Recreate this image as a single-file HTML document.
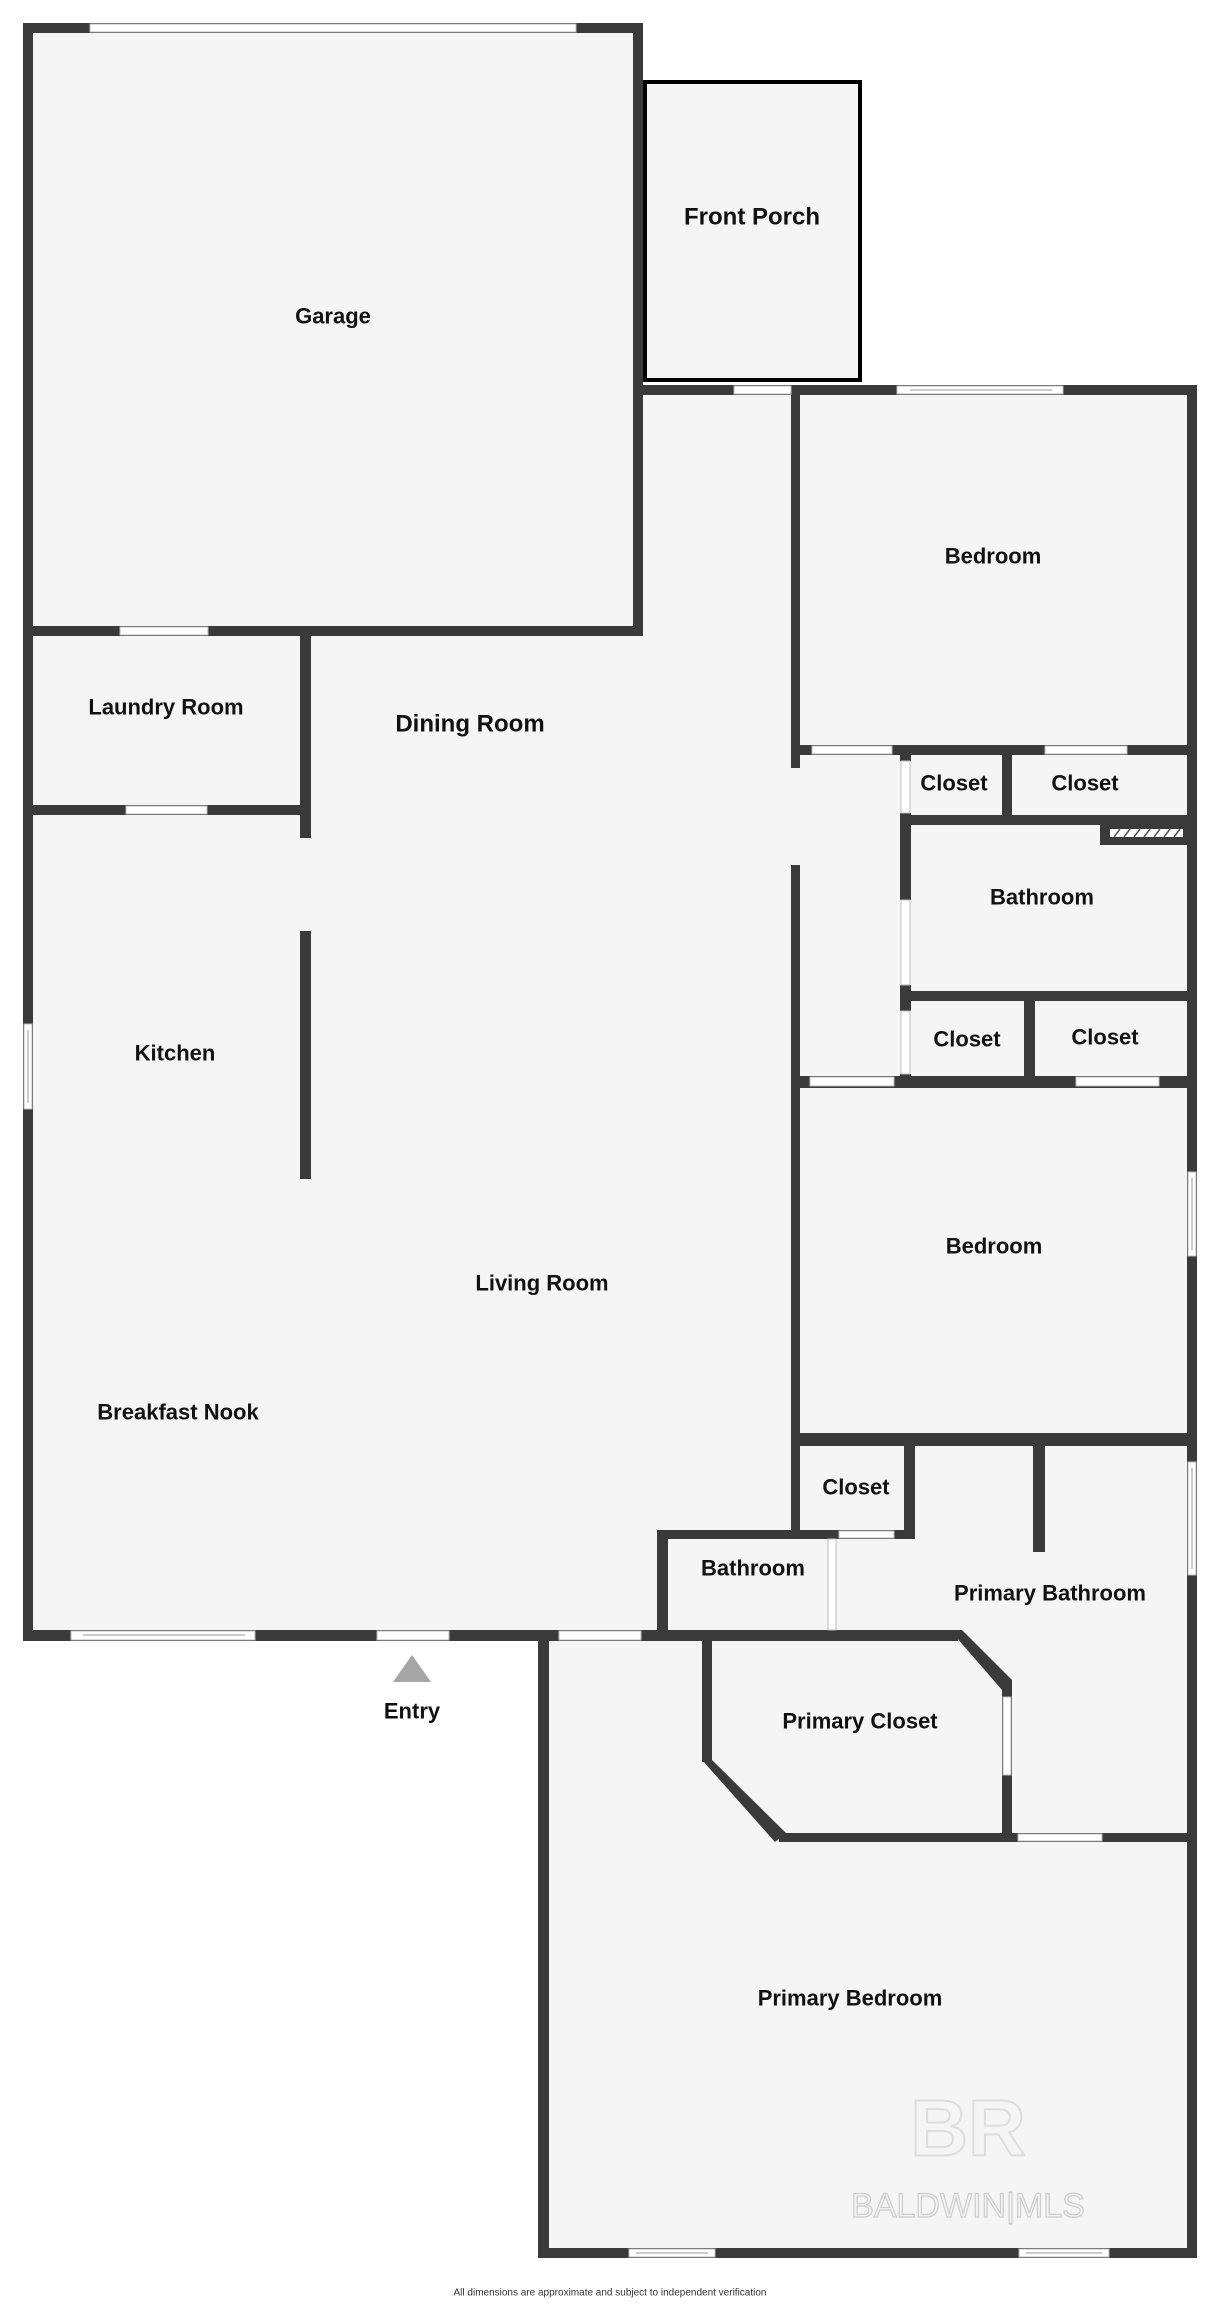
<!DOCTYPE html>
<html><head><meta charset="utf-8"><style>
html,body{margin:0;padding:0;background:#fff}
svg{display:block}
text{font-family:"Liberation Sans",sans-serif;font-weight:bold;fill:#111;text-anchor:middle;dominant-baseline:central}
</style></head><body>
<svg width="1218" height="2304" viewBox="0 0 1218 2304" xmlns="http://www.w3.org/2000/svg">
<!-- floor -->
<polygon points="23,23 643,23 643,385 1197,385 1197,2258 538,2258 538,1641 23,1641" fill="#f5f5f5"/>
<rect x="645" y="82" width="215" height="298" fill="#f5f5f5" stroke="#000" stroke-width="4"/>
<g fill="#3a3a3a">
<!-- garage -->
<rect x="23" y="23" width="620" height="10"/>
<rect x="23" y="23" width="10" height="1618"/>
<rect x="633" y="23" width="10" height="613"/>
<rect x="23" y="626" width="620" height="10"/>
<!-- top of bedroom wing -->
<rect x="643" y="385" width="554" height="10"/>
<rect x="1187" y="385" width="10" height="1873"/>
<rect x="791" y="385" width="9" height="383"/>
<rect x="791" y="745" width="406" height="10"/>
<!-- laundry -->
<rect x="300" y="636" width="11" height="202"/>
<rect x="33" y="805" width="278" height="10"/>
<rect x="300" y="931" width="11" height="248"/>
<!-- hall / bedroom2 column -->
<rect x="791" y="865" width="9" height="674"/>
<rect x="900" y="745" width="11" height="16"/>
<rect x="900" y="813" width="11" height="87"/>
<rect x="900" y="985" width="11" height="26"/>
<rect x="900" y="1074" width="11" height="12"/>
<rect x="1002" y="745" width="10" height="80"/>
<rect x="900" y="815" width="297" height="10"/>
<rect x="1100" y="825" width="87" height="20"/>
<rect x="900" y="991" width="297" height="10"/>
<rect x="1024" y="1001" width="11" height="85"/>
<rect x="791" y="1076" width="406" height="12"/>
<rect x="791" y="1433" width="406" height="13"/>
<!-- closet / baths -->
<rect x="904" y="1446" width="11" height="93"/>
<rect x="657" y="1530" width="258" height="9"/>
<rect x="1033" y="1446" width="12" height="106"/>
<rect x="657" y="1530" width="11" height="111"/>
<!-- main bottom -->
<rect x="23" y="1630" width="935" height="11"/>
<rect x="538" y="1630" width="11" height="628"/>
<rect x="538" y="2248" width="659" height="10"/>
<!-- primary closet -->
<rect x="702" y="1641" width="10" height="121"/>
<polygon points="702,1760 712,1760 786,1833 775,1842"/>
<rect x="779" y="1833" width="418" height="9"/>
<rect x="1002" y="1683" width="10" height="159"/>
<polygon points="950,1630 962,1630 1012,1680 1012,1690 1002,1690"/>
</g>
<!-- hatched -->
<rect x="1110" y="829" width="73" height="8" fill="#fff"/>
<g stroke="#555" stroke-width="1.5">
<line x1="1114" y1="837" x2="1120" y2="829"/><line x1="1124" y1="837" x2="1130" y2="829"/><line x1="1134" y1="837" x2="1140" y2="829"/><line x1="1144" y1="837" x2="1150" y2="829"/><line x1="1154" y1="837" x2="1160" y2="829"/><line x1="1164" y1="837" x2="1170" y2="829"/><line x1="1174" y1="837" x2="1180" y2="829"/>
</g>
<!-- openings (white) -->
<g fill="#fff" stroke="#bbb" stroke-width="1">
<rect x="90" y="24" width="486" height="8"/>
<rect x="120" y="627" width="88" height="8"/>
<rect x="734" y="386" width="57" height="8"/>
<rect x="897" y="386" width="166" height="8"/>
<rect x="812" y="746" width="80" height="8"/>
<rect x="1045" y="746" width="82" height="8"/>
<rect x="126" y="806" width="81" height="8"/>
<rect x="901" y="761" width="9" height="52"/>
<rect x="901" y="900" width="9" height="85"/>
<rect x="901" y="1011" width="9" height="63"/>
<rect x="810" y="1077" width="84" height="9"/>
<rect x="1076" y="1077" width="83" height="9"/>
<rect x="1188" y="1172" width="8" height="84"/>
<rect x="24" y="1024" width="8" height="85"/>
<rect x="1188" y="1462" width="8" height="113"/>
<rect x="839" y="1531" width="55" height="7"/>
<rect x="828" y="1539" width="8" height="91"/>
<rect x="71" y="1631" width="184" height="9"/>
<rect x="377" y="1631" width="72" height="9"/>
<rect x="559" y="1631" width="82" height="9"/>
<rect x="1003" y="1697" width="8" height="78"/>
<rect x="1018" y="1834" width="84" height="7"/>
<rect x="629" y="2249" width="86" height="8"/>
<rect x="1019" y="2249" width="90" height="8"/>
</g>
<g stroke="#999" stroke-width="1">
<line x1="910" y1="390" x2="1052" y2="390"/>
<line x1="83" y1="1635" x2="245" y2="1635"/>
<line x1="636" y1="2253" x2="708" y2="2253"/>
<line x1="1026" y1="2253" x2="1102" y2="2253"/>
<line x1="28" y1="1030" x2="28" y2="1103"/>
<line x1="1192" y1="1178" x2="1192" y2="1250"/>
<line x1="1192" y1="1468" x2="1192" y2="1569"/>
</g>
<!-- entry arrow -->
<polygon points="412,1655 431,1682 393,1682" fill="#a6a6a6"/>
<!-- watermark -->
<text x="968" y="2128" style="font-size:80px;fill:none;stroke:#ddd;stroke-width:2">BR</text>
<text x="968" y="2206" style="font-size:34px;fill:none;stroke:#ccc;stroke-width:1.2;font-weight:normal">BALDWIN|MLS</text>
<!-- labels -->
<g style="font-size:22px">
<text x="333" y="316">Garage</text>
<text x="993" y="556">Bedroom</text>
<text x="166" y="707">Laundry Room</text>
<text x="954" y="783">Closet</text>
<text x="1085" y="783">Closet</text>
<text x="1042" y="897">Bathroom</text>
<text x="967" y="1039">Closet</text>
<text x="1105" y="1037">Closet</text>
<text x="175" y="1053">Kitchen</text>
<text x="994" y="1246">Bedroom</text>
<text x="542" y="1283">Living Room</text>
<text x="178" y="1412">Breakfast Nook</text>
<text x="856" y="1487">Closet</text>
<text x="753" y="1568">Bathroom</text>
<text x="1050" y="1593">Primary Bathroom</text>
<text x="412" y="1711">Entry</text>
<text x="860" y="1721">Primary Closet</text>
<text x="850" y="1998">Primary Bedroom</text>
</g>
<text x="752" y="217" style="font-size:24px">Front Porch</text>
<text x="470" y="724" style="font-size:24px">Dining Room</text>
<text x="610" y="2293" style="font-size:10px;font-weight:normal;fill:#333">All dimensions are approximate and subject to independent verification</text>
</svg>
</body></html>
